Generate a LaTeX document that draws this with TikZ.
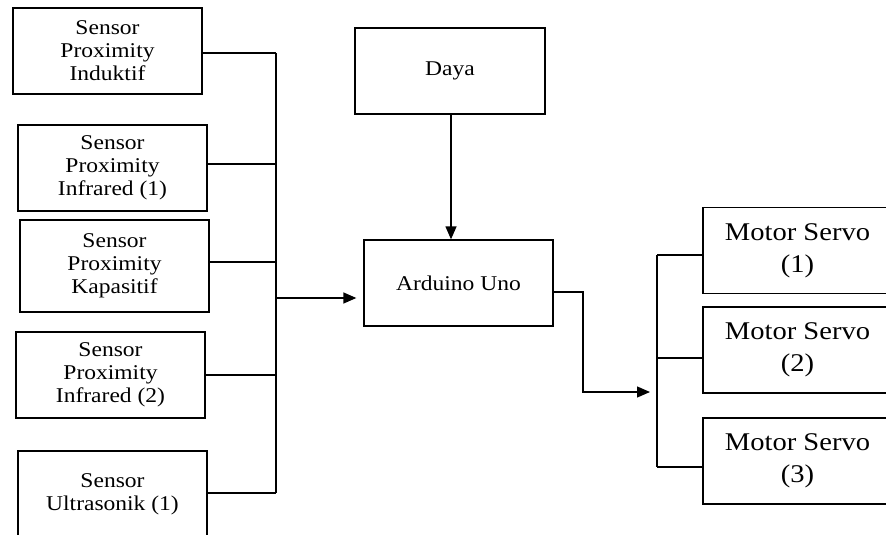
\documentclass[tikz,border=0pt]{standalone}
\usepackage{fontspec}
\setmainfont{Liberation Serif}[FakeStretch=1.12]
\usetikzlibrary{arrows.meta}
\tikzset{
  blk/.style={draw, line width=1.3pt, rectangle, inner sep=0pt, minimum width=189pt, minimum height=86pt, align=center, font=\fontsize{21}{23}\selectfont},
  mblk/.style={blk, font=\fontsize{25.5}{32}\selectfont},
  wire/.style={line width=1.3pt},
  arr/.style={wire, -{Triangle[length=13pt,width=11pt]}}
}
\begin{document}
\begin{tikzpicture}[x=1pt,y=-1pt]
\useasboundingbox (0,0) rectangle (886,535);
\clip (0,0) rectangle (886,535);
% sensors
\node[blk] (s1) at (107.5,51) {Sensor\\Proximity\\Induktif};
\node[blk] (s2) at (112.5,168) {Sensor\\Proximity\\Infrared (1)};
\node[blk, minimum height=92pt] (s3) at (114.5,266) {Sensor\\Proximity\\Kapasitif};
\node[blk] (s4) at (110.5,375) {Sensor\\Proximity\\Infrared (2)};
\node[blk] (s5) at (112.5,494) {Sensor\\Ultrasonik (1)};
% center
\node[blk, minimum width=190pt] (daya) at (450,71) {Daya};
\node[blk] (ard) at (458.5,283) {Arduino Uno};
% motors
\node[mblk] (m1) at (797.5,250.5) {Motor Servo\\(1)};
\node[mblk] (m2) at (797.5,350) {Motor Servo\\(2)};
\node[mblk] (m3) at (797.5,461) {Motor Servo\\(3)};
% left bus
\coordinate (b1) at (276,53);
\coordinate (b2) at (276,164);
\coordinate (b3) at (276,262);
\coordinate (b4) at (276,375);
\coordinate (b5) at (276,493);
\coordinate (bm) at (276,298);
\draw[wire] (b1) -- (b5);
\draw[wire] (s1.east |- b1) -- (b1);
\draw[wire] (s2.east |- b2) -- (b2);
\draw[wire] (s3.east |- b3) -- (b3);
\draw[wire] (s4.east |- b4) -- (b4);
\draw[wire] (s5.east |- b5) -- (b5);
\draw[arr, shorten >=7pt] (bm) -- (ard.west |- bm);
% daya to arduino
\draw[arr] (daya.south -| 451,0) -- (ard.north -| 451,0);
% output
\coordinate (o1) at (583,292);
\coordinate (o2) at (583,392);
\coordinate (r1) at (657,255);
\coordinate (r2) at (657,358);
\coordinate (r3) at (657,467);
\draw[arr, shorten >=7pt] (ard.east |- o1) -- (o1) -- (o2) -- (r1 |- o2);
\draw[wire] (r1) -- (r3);
\draw[wire] (r1) -- (m1.west |- r1);
\draw[wire] (r2) -- (m2.west |- r2);
\draw[wire] (r3) -- (m3.west |- r3);
\end{tikzpicture}
\end{document}
